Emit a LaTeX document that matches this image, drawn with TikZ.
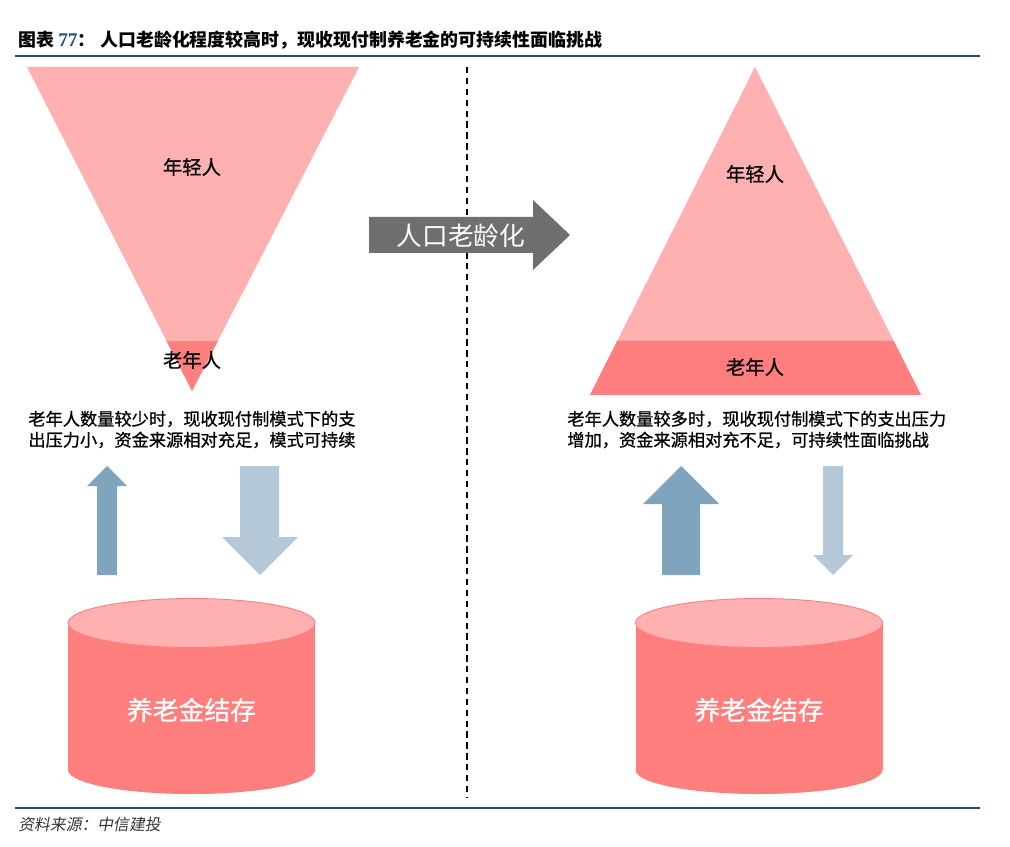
\documentclass[tikz,border=0pt]{standalone}
\usepackage{fontspec}
\setmainfont{Liberation Serif}
\newfontfamily\cjk{Noto Sans CJK SC}
\newfontfamily\cjkmd[FakeBold=0.8]{Noto Sans CJK SC}
\newfontfamily\cjkit[FakeSlant=0.18]{Noto Sans CJK SC}
\usepackage{xcolor}
\usetikzlibrary{positioning, calc}

\definecolor{pinklt}{HTML}{FFB0B0}
\definecolor{pinkdk}{HTML}{FF7F7F}
\definecolor{rulebl}{HTML}{1F4E79}
\definecolor{arrgray}{HTML}{706E6E}
\definecolor{upblue}{HTML}{7FA4BE}
\definecolor{dnblue}{HTML}{B4C8D8}

\begin{document}
\begin{tikzpicture}[
  x=0.02cm, y=-0.02cm,
  lbl/.style={inner sep=0pt, font=\cjkmd\fontsize{11}{13}\selectfont},
  desc/.style={inner sep=0pt, align=left, anchor=west,
    font=\cjkmd\fontsize{9.8}{11.95}\selectfont},
  fund/.style={inner sep=0pt, text=white, font=\cjkmd\fontsize{14.7}{17}\selectfont},
  uparr/.style={fill=upblue},
  dnarr/.style={fill=dnblue},
]
\useasboundingbox (0,0) rectangle (1010,847);

%% Title and rules
\node[inner sep=0pt, anchor=west, font=\cjk\bfseries\fontsize{10.2}{12}\selectfont]
  (ttlnum) at (18,40) {图表 \textcolor{rulebl}{\rmfamily\fontsize{11}{12}\selectfont 77}：};
\node[inner sep=0pt, anchor=west, font=\cjk\bfseries\fontsize{10.2}{12}\selectfont]
  (title) at (100,40) {人口老龄化程度较高时，现收现付制养老金的可持续性面临挑战};
\draw[rulebl, line width=1.6pt] (15,56) -- (980,56);
\draw[rulebl, line width=1pt] (15,808) -- (980,808);
\node[inner sep=0pt, anchor=west, text=black!80, font=\cjkit\fontsize{9}{11}\selectfont]
  (source) at (18,825) {资料来源：中信建投};

%% Divider
\draw[line width=0.85pt, dash pattern=on 3.6pt off 2.6pt] (467,67) -- (467,797);

%% Left pyramid (inverted)
\coordinate (ltl) at (27,67);
\coordinate (ltr) at (359,67);
\coordinate (lapex) at (192,391);
\fill[pinklt] (ltl) -- (ltr) -- (lapex) -- cycle;
\fill[pinkdk] ($(ltl)!0.846!(lapex)$) -- ($(ltr)!0.846!(lapex)$) -- (lapex) -- cycle;
\node[lbl] (youngL) at (192,167) {年轻人};
\node[lbl] (oldL)   at (192,360) {老年人};

%% Right pyramid
\coordinate (rapex) at (755,67);
\coordinate (rbl) at (590,395);
\coordinate (rbr) at (921,395);
\fill[pinklt] (rapex) -- (rbl) -- (rbr) -- cycle;
\fill[pinkdk] ($(rapex)!0.835!(rbl)$) -- (rbl) -- (rbr) -- ($(rapex)!0.835!(rbr)$) -- cycle;
\node[lbl] (youngR) at (755,174) {年轻人};
\node[lbl] (oldR)   at (755,367) {老年人};

%% Ageing arrow
\fill[arrgray] (369,217) -- (533,217) -- (533,200) -- (570,235) -- (533,270)
  -- (533,253) -- (369,253) -- cycle;
\node[inner sep=0pt, text=white, font=\cjk\fontsize{14.6}{17}\selectfont]
  (ageing) at (461,236) {人口老龄化};

%% Descriptions
\node[desc] (descL) at (28,429.5)
  {老年人数量较少时，现收现付制模式下的支\\出压力小，资金来源相对充足，模式可持续};
\node[desc] (descR) at (567,429.5)
  {老年人数量较多时，现收现付制模式下的支出压力\\增加，资金来源相对充不足，可持续性面临挑战};

%% Flow arrows, left
\fill[uparr] (97,575) -- (97,486) -- (87,486) -- (107,466) -- (127,486) -- (117,486)
  -- (117,575) -- cycle;
\fill[dnarr] (240,466) -- (279,466) -- (279,537) -- (298,537) -- (260,575) -- (222,537)
  -- (240,537) -- cycle;

%% Flow arrows, right
\fill[uparr] (662,575) -- (662,504) -- (643,504) -- (681,466) -- (719,504) -- (700,504)
  -- (700,575) -- cycle;
\fill[dnarr] (823,466) -- (843,466) -- (843,555) -- (853,555) -- (833,575) -- (813,555)
  -- (823,555) -- cycle;

%% Pension fund cylinders
\foreach \cx/\nm in {191.5/fundL, 759/fundR}{
  \fill[pinkdk] (\cx,770) ellipse [x radius=123.5, y radius=24];
  \fill[pinkdk] (\cx-123.5,623) rectangle (\cx+123.5,770);
  \filldraw[fill=pinklt, draw=pinkdk, line width=0.5pt]
    (\cx,623) ellipse [x radius=123.5, y radius=24.5];
  \node[fund] (\nm) at (\cx,710) {养老金结存};
}
\end{tikzpicture}
\end{document}
